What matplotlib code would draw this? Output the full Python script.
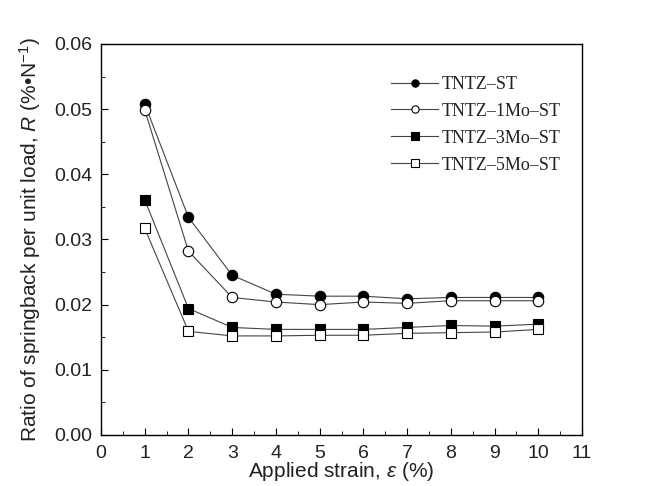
import matplotlib
matplotlib.use("Agg")
import matplotlib.pyplot as plt
from matplotlib.ticker import MultipleLocator

plt.rcParams["font.family"] = "Liberation Sans"
plt.rcParams["mathtext.fontset"] = "custom"
plt.rcParams["mathtext.rm"] = "Liberation Sans"
plt.rcParams["mathtext.it"] = "Liberation Sans:italic"

strain = [1, 2, 3, 4, 5, 6, 7, 8, 9, 10]
tntz_st = [0.0508, 0.0334, 0.0245, 0.0216, 0.0213, 0.0213, 0.0209, 0.0211, 0.0211, 0.0211]
tntz_1mo = [0.0499, 0.0282, 0.0211, 0.0204, 0.0200, 0.0204, 0.0202, 0.0206, 0.0206, 0.0206]
tntz_3mo = [0.0361, 0.0194, 0.0165, 0.0162, 0.0162, 0.0162, 0.0165, 0.0168, 0.0167, 0.0170]
tntz_5mo = [0.0317, 0.0159, 0.0152, 0.0152, 0.0153, 0.0153, 0.0156, 0.0157, 0.0158, 0.0162]

txt = "#222222"
fig = plt.figure(figsize=(6.54, 4.86), dpi=100)
ax = fig.add_axes([0.1544, 0.105, 0.7356, 0.8045])

line_kw = dict(color="#444444", lw=0.8, markersize=7.5, markeredgewidth=0.8)
ax.plot(strain, tntz_st, marker="o", mfc="black", mec="black", label="TNTZ\u2013ST", **line_kw)
ax.plot(strain, tntz_1mo, marker="o", mfc="white", mec="black", label="TNTZ\u20131Mo\u2013ST", **line_kw)
ax.plot(strain, tntz_3mo, marker="s", mfc="black", mec="black", label="TNTZ\u20133Mo\u2013ST", **line_kw)
ax.plot(strain, tntz_5mo, marker="s", mfc="white", mec="black", label="TNTZ\u20135Mo\u2013ST", **line_kw)

ax.set_xlim(0, 11)
ax.set_ylim(0, 0.06)
ax.xaxis.set_major_locator(MultipleLocator(1))
ax.xaxis.set_minor_locator(MultipleLocator(0.5))
ax.yaxis.set_major_locator(MultipleLocator(0.01))
ax.yaxis.set_minor_locator(MultipleLocator(0.005))
ax.yaxis.set_major_formatter(matplotlib.ticker.FormatStrFormatter("%.2f"))
ax.tick_params(which="both", direction="in", labelsize=14, labelcolor=txt)
ax.tick_params(axis="x", which="major", pad=7)
ax.tick_params(axis="y", which="major", pad=6)
ax.tick_params(which="major", length=5)
ax.tick_params(which="minor", length=3)
for s in ax.spines.values():
    s.set_linewidth(1.0)

ax.set_xlabel("Applied strain, $\\varepsilon$ (%)", fontsize=15, labelpad=-1, color=txt)
ax.set_ylabel("Ratio of springback per unit load, $R$ (%\u2022N$^{-1}$)", fontsize=15,
              labelpad=8, color=txt)

ax.legend(loc="upper left", bbox_to_anchor=(0.57, 0.96), frameon=False,
          prop={"family": "Liberation Serif", "size": 13}, handlelength=2.6,
          handletextpad=0.2, labelspacing=0.55, markerscale=0.7, labelcolor=txt)

fig.savefig("out.png", dpi=100)
